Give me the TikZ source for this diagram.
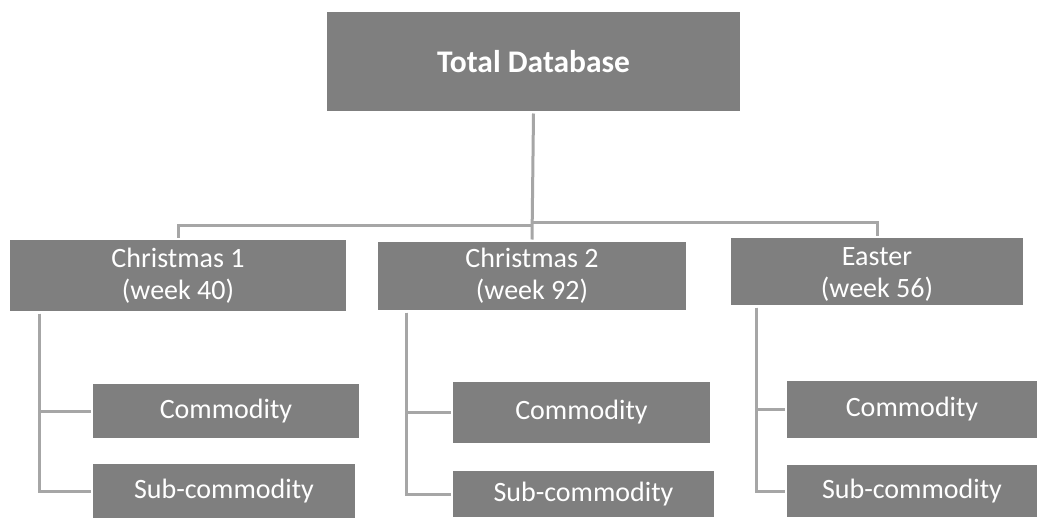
\documentclass[tikz,border=0pt]{standalone}
\usepackage{fontspec}
\setmainfont{Carlito}
\usetikzlibrary{calc}
\definecolor{boxgrey}{HTML}{7F7F7F}
\definecolor{linegrey}{HTML}{A6A6A6}
\tikzset{
  box/.style={fill=boxgrey, draw=none, text=white, inner sep=0pt, outer sep=2.5pt,
    align=center, font=\fontsize{28}{32}\selectfont},
  topbox/.style={box, font=\bfseries\fontsize{31.5}{36}\selectfont},
  conn/.style={draw=linegrey, line width=3pt}
}
\begin{document}
\begin{tikzpicture}[x=1pt, y=-1pt]
  \path[use as bounding box, fill=white] (0,0) rectangle (1038,519);

  % root
  \node[topbox, minimum width=413pt, minimum height=99pt] (total) at (533.5,61.5) {Total Database};

  % seasons
  \node[box, minimum width=336pt, minimum height=71pt] (c1) at (178,275.5) {Christmas 1\\(week 40)};
  \node[box, minimum width=308pt, minimum height=68pt] (c2) at (532,276) {Christmas 2\\(week 92)};
  \node[box, minimum width=292pt, minimum height=67pt] (e)  at (877,271.5) {};
  \node[align=center, text=white, inner sep=0pt, font=\fontsize{28}{32}\selectfont] (etext) at (877,274.5) {Easter\\(week 56)};

  % levels under each season
  \node[box, minimum width=266pt, minimum height=54pt] (com1) at (226,411) {Commodity};
  \node[box, minimum width=262pt, minimum height=54pt] (sub1) at (224,491) {Sub-commodity};
  \node[box, minimum width=257pt, minimum height=61pt] (com2) at (581.5,412.5) {Commodity};
  \node[box, minimum width=261pt, minimum height=46pt] (sub2) at (583.5,494) {Sub-commodity};
  \node[box, minimum width=250pt, minimum height=57pt] (com3) at (912,409.5) {Commodity};
  \node[box, minimum width=250pt, minimum height=52pt] (sub3) at (912,491) {Sub-commodity};

  % bus from the root to the seasons
  \coordinate (busL) at (533,225);
  \coordinate (busR) at (533,222);
  \draw[conn] (total.south) -- (c2.north);
  \draw[conn] (c1.north) |- (busL);
  \draw[conn] (e.north) |- (busR);

  % season to its levels
  \draw[conn] ($(c1.south west)+(32,0)$) |- (com1.west);
  \draw[conn] ($(c1.south west)+(32,0)$) |- (sub1.west);
  \draw[conn] ($(c2.south west)+(31,0)$) |- (com2.west);
  \draw[conn] ($(c2.south west)+(31,0)$) |- (sub2.west);
  \draw[conn] ($(e.south west)+(28,0)$) |- (com3.west);
  \draw[conn] ($(e.south west)+(28,0)$) |- (sub3.west);
\end{tikzpicture}
\end{document}
